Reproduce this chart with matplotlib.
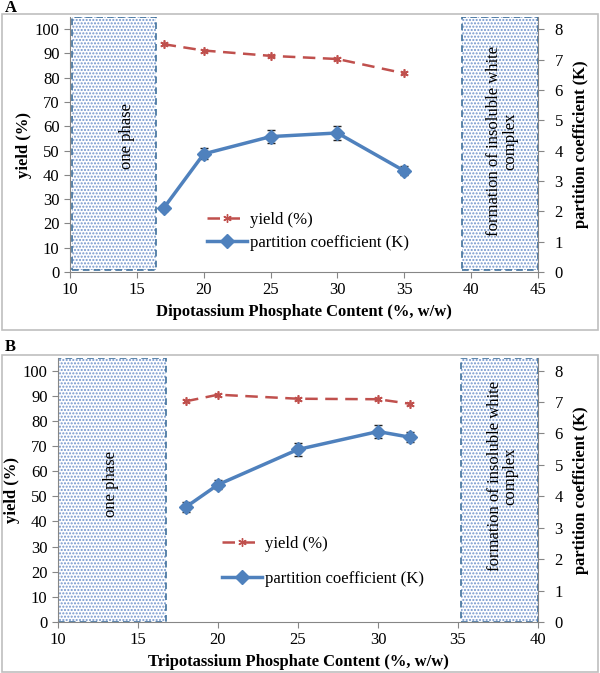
import matplotlib
matplotlib.use('Agg')
import matplotlib.pyplot as plt
from matplotlib.patches import Rectangle
from matplotlib.lines import Line2D

plt.rcParams['font.family'] = ['Liberation Serif', 'DejaVu Serif']
plt.rcParams['font.size'] = 12

# panel A: dipotassium phosphate
xA = [17, 20, 25, 30, 35]
yieldA = [93.8, 91.2, 89.0, 87.7, 81.8]
kA = [2.10, 3.89, 4.46, 4.58, 3.33]
kA_err = [0.08, 0.18, 0.22, 0.22, 0.15]

# panel B: tripotassium phosphate
xB = [18, 20, 25, 30, 32]
yieldB = [87.8, 90.4, 88.8, 88.6, 86.8]
kB = [3.66, 4.37, 5.49, 6.06, 5.88]
kB_err = [0.15, 0.15, 0.2, 0.2, 0.15]

RED = '#C0504D'
BLUE = '#4F81BD'
GRAY = '#868686'

fig = plt.figure(figsize=(6, 6.73), dpi=100)

# panel frames
for y0, y1 in [(14, 330), (355, 672)]:
    fig.add_artist(Rectangle((2 / 600, 1 - y1 / 673), 596 / 600, (y1 - y0) / 673,
                             transform=fig.transFigure, fill=False,
                             edgecolor='#BFBFBF', lw=1.2))
fig.text(5 / 600, 1 - 8 / 673, 'A', fontweight='bold', fontsize=12, va='center')
fig.text(5 / 600, 1 - 347 / 673, 'B', fontweight='bold', fontsize=12, va='center')


def shade(ax, x0, x1, y0, y1):
    ax.add_patch(Rectangle((x0, y0), x1 - x0, y1 - y0, facecolor='white',
                           edgecolor='#7396CC', hatch='.....', lw=0, zorder=1))
    ax.add_patch(Rectangle((x0, y0), x1 - x0, y1 - y0, fill=False,
                           edgecolor='#41719C', ls=(0, (4, 2.5)), lw=1.2, zorder=2))


def panel(rect, x, yld, k, kerr, xlim, xlabel, box1, box2, t1, t2, leg_pos, leg_space):
    ax = fig.add_axes(rect)
    ax2 = ax.twinx()
    ax.set_xlim(*xlim)
    ax.set_ylim(0, 105)
    ax2.set_ylim(0, 8.4)
    ax.set_yticks(range(0, 101, 10))
    ax2.set_yticks(range(0, 9))
    ax.set_xticks(range(xlim[0], xlim[1] + 1, 5))

    shade(ax, *box1)
    shade(ax, *box2)
    ax.text(t1[0], t1[1], 'one phase', rotation=90, ha='center', va='center', zorder=3)
    ax.text(t2[0], t2[1], 'formation of insoluble white\ncomplex', rotation=90,
            ha='center', va='center', linespacing=1.0, multialignment='center', zorder=3)

    ax.plot(x, yld, color=RED, ls=(0, (5, 3)), lw=1.8, marker=(6, 2, 0),
            ms=6, mew=1.2, zorder=4)
    ax2.errorbar(x, k, yerr=kerr, color=BLUE, lw=2.5, marker='D', ms=7,
                 ecolor='#222222', elinewidth=1, capsize=3, zorder=4)

    for a in (ax, ax2):
        a.spines['top'].set_visible(False)
        for s in ('left', 'right', 'bottom'):
            a.spines[s].set_color(GRAY)
        a.tick_params(color=GRAY, length=4, labelsize=12)
    ax2.tick_params(pad=8)
    ax.spines['right'].set_visible(False)
    ax2.spines['left'].set_visible(False)
    ax2.spines['bottom'].set_visible(False)

    ax.set_ylabel('yield (%)', fontweight='bold', labelpad=2)
    ax2.set_ylabel('partition coefficient (K)', fontweight='bold', labelpad=7)
    ax.set_xlabel(xlabel, fontweight='bold', labelpad=4)

    handles = [Line2D([], [], color=RED, ls=(0, (5, 3)), lw=1.8, marker=(6, 2, 0), ms=6),
               Line2D([], [], color=BLUE, lw=2.5, marker='D', ms=7)]
    ax2.legend(handles, ['yield (%)', 'partition coefficient (K)'], loc='upper left',
               bbox_to_anchor=leg_pos, bbox_transform=fig.transFigure, frameon=False,
               handlelength=2.4, handletextpad=0.2, labelspacing=leg_space,
               borderpad=0, borderaxespad=0, fontsize=12)


panel([70 / 600, 1 - 272 / 673, 468 / 600, 255 / 673], xA, yieldA, kA, kA_err,
      (10, 45), 'Dipotassium Phosphate Content (%, w/w)',
      (10.15, 16.4, 1, 104.8), (39.3, 45, 1, 104.8), (14.3, 56), (42.3, 54),
      (207 / 600, 1 - 212 / 673), 0.4)

panel([58 / 600, 1 - 622 / 673, 480 / 600, 264 / 673], xB, yieldB, kB, kB_err,
      (10, 40), 'Tripotassium Phosphate Content (%, w/w)',
      (10.0, 16.75, 0, 105), (35.2, 40, 0, 105), (13.3, 55), (37.8, 58),
      (222 / 600, 1 - 536 / 673), 1.15)

fig.savefig('out.png', dpi=100)
